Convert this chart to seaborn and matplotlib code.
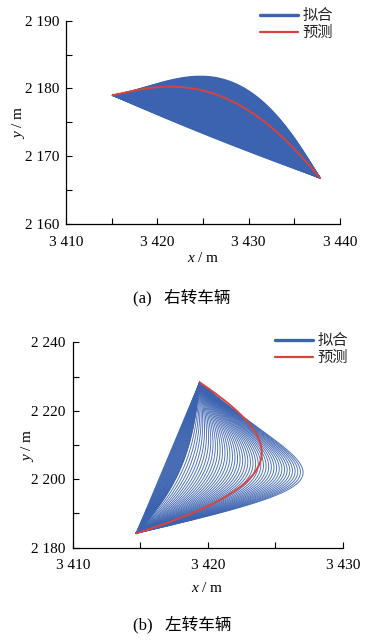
import numpy as np
import pandas as pd
import matplotlib
matplotlib.use('Agg')
import matplotlib.pyplot as plt
import seaborn as sns
from math import comb
from matplotlib.lines import Line2D
from matplotlib.ticker import MultipleLocator, FixedLocator, FixedFormatter

sns.set_theme(style='ticks')
plt.rcParams['font.family'] = ['Liberation Serif', 'Noto Sans CJK SC']
plt.rcParams['mathtext.fontset'] = 'custom'
plt.rcParams['mathtext.it'] = 'Liberation Serif:italic'
plt.rcParams['mathtext.rm'] = 'Liberation Serif'

# ---------------- data ----------------
legend_labels = ['拟合', '预测']
captions = ['(a)   右转车辆', '(b)   左转车辆']

# (a) right turn: Bezier control points (x list, y list)
a_inner_x = [3415.1, 3419.64, 3424.18, 3428.72, 3433.26, 3437.8]
a_inner_y = [2179.0, 2176.3, 2173.7, 2171.3, 2169.0, 2166.8]
a_outer_x = [3415.1, 3419.5, 3424.0, 3429.5, 3434.5, 3437.8]
a_outer_y = [2179.0, 2180.0, 2183.0, 2186.2, 2174.0, 2166.8]
a_pred_x = [3415.1, 3419.0, 3426.0, 3432.5, 3437.8]
a_pred_y = [2179.0, 2180.0, 2183.6, 2175.5, 2166.8]
a_n_fits = 100
a_xticks = [3410, 3420, 3430, 3440]
a_xticklabels = ['3 410', '3 420', '3 430', '3 440']
a_yticks = [2160, 2170, 2180, 2190]
a_yticklabels = ['2 160', '2 170', '2 180', '2 190']

# (b) left turn
b_inner_x = [3414.7, 3416.27, 3417.83, 3419.4]
b_inner_y = [2184.2, 2198.9, 2213.6, 2228.3]
b_outer_x = [3414.7, 3433.3, 3427.5, 3419.4]
b_outer_y = [2184.2, 2201.0, 2201.0, 2228.3]
b_pred_x = [3414.7, 3427.0, 3425.5, 3419.4]
b_pred_y = [2184.2, 2199.5, 2212.0, 2228.3]
b_n_dense = 30
b_n_fits = 46
b_xticks = [3410, 3420, 3430]
b_xticklabels = ['3 410', '3 420', '3 430']
b_yticks = [2180, 2200, 2220, 2240]
b_yticklabels = ['2 180', '2 200', '2 220', '2 240']

BLUE = '#3c63b0'
RED = '#d9433d'

W, H = 381, 644
fig = plt.figure(figsize=(W / 100, H / 100), dpi=100)

tt = np.linspace(0, 1, 160)


def bezier(px, py, t=tt):
    n = len(px) - 1
    B = np.array([comb(n, k) * t ** k * (1 - t) ** (n - k) for k in range(n + 1)])
    return B.T @ np.asarray(px), B.T @ np.asarray(py)


def family_df(ix, iy, ox, oy, weights):
    rows = []
    for i, w in enumerate(weights):
        cx = (1 - w) * np.asarray(ix) + w * np.asarray(ox)
        cy = (1 - w) * np.asarray(iy) + w * np.asarray(oy)
        x, y = bezier(cx, cy)
        rows.append(pd.DataFrame({'x': x, 'y': y, 'curve': i}))
    return pd.concat(rows, ignore_index=True)


def style_axes(ax, xlim, ylim, xt, xtl, yt, ytl, xminor, yminor, xlp, ylp):
    ax.set_xlim(*xlim)
    ax.set_ylim(*ylim)
    ax.xaxis.set_major_locator(FixedLocator(xt))
    ax.xaxis.set_major_formatter(FixedFormatter(xtl))
    ax.yaxis.set_major_locator(FixedLocator(yt))
    ax.yaxis.set_major_formatter(FixedFormatter(ytl))
    ax.xaxis.set_minor_locator(MultipleLocator(xminor))
    ax.yaxis.set_minor_locator(MultipleLocator(yminor))
    for s in ['top', 'right']:
        ax.spines[s].set_visible(False)
    for s in ['left', 'bottom']:
        ax.spines[s].set_color('black')
        ax.spines[s].set_linewidth(0.9)
    ax.tick_params(which='both', direction='in', length=4.5, width=0.8, colors='black',
                   labelsize=11, labelcolor='black')
    ax.tick_params(axis='x', which='major', pad=8.4)
    ax.tick_params(axis='y', which='major', pad=5)
    ax.set_xlabel('$x$ / m', fontsize=11, color='black', labelpad=xlp)
    ax.set_ylabel('$y$ / m', fontsize=11, color='black', labelpad=ylp)
    ax.set_facecolor('white')


def panel(rect, ix, iy, ox, oy, prx, pry, weights, lw, alpha):
    ax = fig.add_axes(rect)
    df = family_df(ix, iy, ox, oy, weights)
    sns.lineplot(data=df, x='x', y='y', units='curve', estimator=None, sort=False,
                 color=BLUE, lw=lw, alpha=alpha, ax=ax, legend=False)
    px, py = bezier(prx, pry)
    pdf = pd.DataFrame({'x': px, 'y': py})
    sns.lineplot(data=pdf, x='x', y='y', sort=False, estimator=None, color=RED, lw=1.4, ax=ax)
    return ax


# panel (a)
axa = panel([66 / W, 1 - 224 / H, 274 / W, 203.3 / H], a_inner_x, a_inner_y, a_outer_x, a_outer_y,
            a_pred_x, a_pred_y, np.linspace(0, 1, a_n_fits), 0.9, 1.0)
style_axes(axa, (3410, 3440), (2160, 2190), a_xticks, a_xticklabels, a_yticks, a_yticklabels,
           5, 5, 2, -2)

# panel (b)
b_weights = np.concatenate([np.linspace(0, 0.12, b_n_dense), np.linspace(0.12, 1, b_n_fits)])
axb = panel([72.7 / W, 1 - 547.7 / H, 270 / W, 205.4 / H], b_inner_x, b_inner_y, b_outer_x, b_outer_y,
            b_pred_x, b_pred_y, b_weights, 0.65, 0.95)
style_axes(axb, (3410, 3430), (2180, 2240), b_xticks, b_xticklabels, b_yticks, b_yticklabels,
           5, 10, 6, -3)

handles = [Line2D([], [], color=BLUE, lw=2.4), Line2D([], [], color=RED, lw=1.6)]
leg_font = {'family': ['Noto Sans CJK SC'], 'size': 11}
for ax, anchor in [(axa, (260 / W, 1 - 7 / H)), (axb, (275 / W, 1 - 332 / H))]:
    ax.legend(handles, legend_labels, loc='upper left', bbox_to_anchor=anchor,
              bbox_transform=fig.transFigure, frameon=False, prop=leg_font,
              handlelength=2.5, handletextpad=0.3, labelspacing=0.0,
              borderpad=0, borderaxespad=0)

fig.text(182 / W, 1 - 298 / H, captions[0], ha='center', va='center', fontsize=12,
         family=['Liberation Serif', 'Noto Sans CJK SC'], color='black')
fig.text(182 / W, 1 - 625 / H, captions[1], ha='center', va='center', fontsize=12,
         family=['Liberation Serif', 'Noto Sans CJK SC'], color='black')

fig.savefig('out.png', dpi=100, facecolor='white')
